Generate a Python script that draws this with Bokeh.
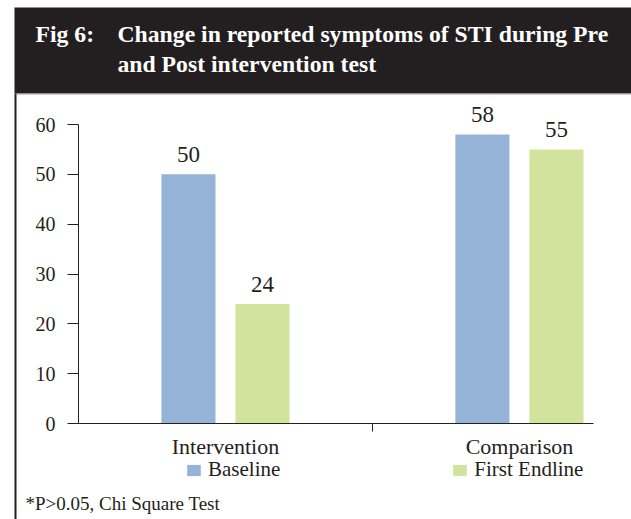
from bokeh.plotting import figure
from bokeh.models import (BoxAnnotation, Label, LabelSet, ColumnDataSource,
                          FixedTicker, Legend, LegendItem, LinearAxis)
from bokeh.core.properties import value
from bokeh.embed import file_html
from bokeh.resources import INLINE

# ---- data ----
categories = ["Intervention", "Comparison"]
series_names = ["Baseline", "First Endline"]
baseline = [50, 58]
first_endline = [24, 55]
y_ticks = [0, 10, 20, 30, 40, 50, 60]
title_tag = "Fig 6:"
title_lines = ["Change in reported symptoms of STI during Pre",
               "and Post intervention test"]
footnote = "*P>0.05, Chi Square Test"

# ---- styling / layout (pixels) ----
FONT = "Liberation Serif"
DARK = "#231f20"
BLUE = "#95b3d7"
GREEN = "#d1e39c"
W, H = 631, 519
PLOT_L, PLOT_R, PLOT_T, PLOT_B = 78, 593, 124, 423
X_MAX = 1.752
Y_MAX = 60
BAR_W = 0.184
OFF = 0.126

xs = (PLOT_R - PLOT_L) / X_MAX
ys = (PLOT_B - PLOT_T) / Y_MAX
x_range = (-PLOT_L / xs, X_MAX + (W - PLOT_R) / xs)
y_range = (-(H - PLOT_B) / ys, Y_MAX + PLOT_T / ys)


def sy(py):
    return H - py


centers = [i + 0.5 for i in range(len(categories))]
x_base = [c - OFF for c in centers]
x_end = [c + OFF for c in centers]

p = figure(width=W, height=H, x_range=x_range, y_range=y_range,
           output_backend="svg", toolbar_location=None,
           x_axis_location=None, y_axis_location=None,
           min_border=0)
p.outline_line_color = None
p.xgrid.visible = False
p.ygrid.visible = False
p.background_fill_color = "white"
p.border_fill_color = "white"

# header band and frame lines (drawn first)
S = dict(left_units="screen", right_units="screen",
         top_units="screen", bottom_units="screen", level="underlay")
p.add_layout(BoxAnnotation(left=14, right=W + 10, top=sy(7), bottom=sy(93),
                           fill_color=DARK, fill_alpha=1, line_color=None, **S))
p.add_layout(BoxAnnotation(left=16, right=W + 10, top=sy(93), bottom=sy(94),
                           fill_color="#9a9a9a", fill_alpha=1, line_color=None, **S))
p.add_layout(BoxAnnotation(left=14, right=16, top=sy(93), bottom=-10,
                           fill_color=DARK, fill_alpha=1, line_color=None, **S))

r_b = p.vbar(x=x_base, top=baseline, width=BAR_W, fill_color=BLUE, line_color=None)
r_g = p.vbar(x=x_end, top=first_endline, width=BAR_W, fill_color=GREEN, line_color=None)

# value labels
src = ColumnDataSource(dict(
    x=x_base + x_end,
    top=baseline + first_endline,
    label=[str(v) for v in baseline + first_endline],
))
p.add_layout(LabelSet(x="x", y="top", text="label", source=src,
                      text_align="center", text_baseline="alphabetic",
                      y_offset=12, text_font=value(FONT),
                      text_font_size="23px", text_color=DARK))

# axes
xa = LinearAxis(fixed_location=0, bounds=(0, X_MAX))
xa.ticker = FixedTicker(ticks=centers, minor_ticks=[1.0])
xa.major_label_overrides = {c: n for c, n in zip(centers, categories)}
xa.major_tick_line_color = None
xa.major_tick_out = 0
xa.major_tick_in = 0
xa.minor_tick_out = 8
xa.minor_tick_in = 0
xa.minor_tick_line_color = DARK
xa.axis_line_color = DARK
xa.major_label_standoff = 2
xa.major_label_text_font = FONT
xa.major_label_text_font_size = "22px"
xa.major_label_text_color = DARK
p.add_layout(xa, "below")

ya = LinearAxis(fixed_location=0, bounds=(0, Y_MAX))
ya.ticker = FixedTicker(ticks=y_ticks)
ya.major_tick_out = 11
ya.major_tick_in = 0
ya.minor_tick_line_color = None
ya.major_tick_line_color = DARK
ya.axis_line_color = DARK
ya.major_label_standoff = 12
ya.major_label_text_font = FONT
ya.major_label_text_font_size = "20px"
ya.major_label_text_color = DARK
p.add_layout(ya, "left")

legend = Legend(items=[LegendItem(label=series_names[0], renderers=[r_b]),
                       LegendItem(label=series_names[1], renderers=[r_g])],
                orientation="horizontal", location=(185, sy(482)),
                glyph_width=17, glyph_height=14, label_standoff=6,
                spacing=171, padding=0, margin=0,
                border_line_color=None, background_fill_alpha=0,
                label_text_font=FONT, label_text_font_size="21px",
                label_text_color=DARK)
p.add_layout(legend)

# title texts
for txt, x, py in [(title_tag, 35, 33), (title_lines[0], 117, 33),
                   (title_lines[1], 117, 63)]:
    p.add_layout(Label(x=x, y=sy(py), x_units="screen", y_units="screen",
                       text=txt, text_color="white", text_font=FONT,
                       text_font_size="23.7px", text_font_style="bold",
                       text_baseline="middle"))

p.add_layout(Label(x=25, y=sy(503), x_units="screen", y_units="screen",
                   text=footnote, text_color=DARK, text_font=FONT,
                   text_font_size="19px", text_baseline="middle"))

open("out.html", "w").write(file_html(p, INLINE))
